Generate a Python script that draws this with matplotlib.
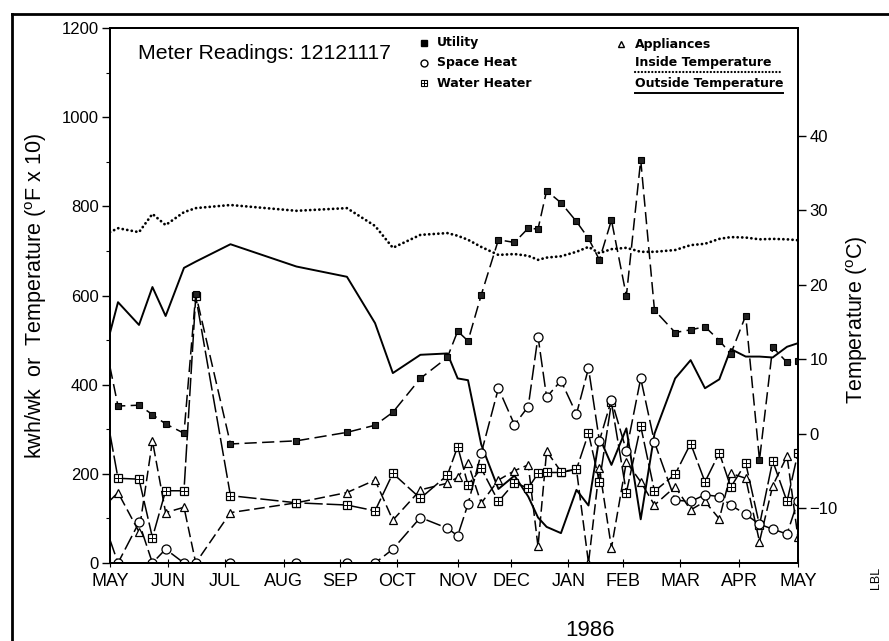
import numpy as np
import matplotlib.pyplot as plt
from matplotlib.lines import Line2D

plt.rcParams['font.family'] = ['Liberation Sans', 'DejaVu Sans']
plt.rcParams['mathtext.fontset'] = 'custom'
plt.rcParams['mathtext.rm'] = 'Liberation Sans'

# month ticks (months since May 1)
month_labels = ['MAY', 'JUN', 'JUL', 'AUG', 'SEP', 'OCT', 'NOV',
                'DEC', 'JAN', 'FEB', 'MAR', 'APR', 'MAY']
month_pos = [0, 1.01, 2.0, 3.03, 4.01, 5.01, 6.06, 6.99, 7.99, 8.95, 9.94, 10.97, 12.0]

# reading dates (months since May 1); first entry is the left edge
weeks = [0, 0.14, 0.506, 0.74, 0.97, 1.29, 1.495, 2.10, 3.25, 4.13, 4.62, 4.93,
         5.41, 5.88, 6.06, 6.24, 6.47, 6.77, 7.05, 7.29, 7.46, 7.61, 7.86,
         8.13, 8.34, 8.53, 8.74, 9.0, 9.25, 9.49, 9.85, 10.12, 10.37, 10.62,
         10.82, 11.08, 11.32, 11.55, 11.80, 11.99]

# kwh/wk
utility = [440, 352, 354, 333, 312, 291, 603, 267, 274, 293, 309, 338,
           414, 461, 520, 498, 601, 725, 719, 751, 749, 835, 808,
           766, 728, 680, 769, 599, 904, 567, 517, 523, 530, 499,
           469, 555, 231, 484, 450, 452]
space_heat = [52, 0, 91, 0, 31, 0, 0, 0, 0, 0, 0, 31,
              102, 78, 61, 132, 246, 392, 310, 351, 508, 372, 409,
              334, 437, 274, 366, 252, 414, 271, 141, 138, 153, 149,
              130, 109, 87, 76, 65, 140]
water_heater = [290, 190, 188, 57, 162, 162, 598, 151, 135, 130, 117, 201,
                145, 197, 261, 175, 212, 138, 180, 168, 201, 203, 203,
                210, 291, 182, 360, 158, 307, 161, 199, 268, 182, 247,
                170, 224, 85, 229, 138, 247]
appliances = [140, 158, 70, 274, 113, 125, 0, 113, 135, 158, 186, 96,
              164, 179, 192, 224, 134, 186, 207, 220, 37, 251, 205,
              210, 0, 212, 34, 227, 182, 130, 171, 119, 138, 99,
              201, 190, 48, 173, 240, 58]

# deg F x 10
inside_temp = [742, 751, 742, 783, 758, 787, 796, 803, 790, 796, 756, 707,
               736, 740, 734, 725, 709, 691, 693, 689, 680, 685, 688,
               698, 709, 695, 704, 707, 698, 698, 702, 713, 716, 727,
               731, 730, 726, 727, 726, 724]
outside_temp = [516, 585, 534, 619, 554, 662, 676, 715, 665, 642, 538, 426,
                467, 470, 414, 410, 266, 166, 196, 149, 102, 81, 67,
                164, 129, 282, 220, 302, 98, 290, 414, 455, 392, 412,
                480, 463, 463, 461, 485, 493]

fig = plt.figure(figsize=(8.89, 6.41), dpi=100)
ax = fig.add_axes([0.1237, 0.1217, 0.7745, 0.8346])

mk = list(range(1, len(weeks)))
lw = 1.1

ax.plot(weeks, inside_temp, color='black', lw=2.0, ls=(0, (0.05, 1.6)),
        dash_capstyle='round')
ax.plot(weeks, outside_temp, color='black', lw=1.4, ls='-')

ax.plot(weeks, appliances, color='black', lw=lw, ls=(0, (7, 3)),
        marker='^', ms=6, mfc='white', mec='black', mew=0.9, markevery=mk)
ax.plot(weeks, water_heater, color='black', lw=lw, ls=(0, (12, 2.5)),
        marker='s', ms=5.5, mfc='white', mec='black', mew=0.9, markevery=mk)
ax.plot(weeks[1:], water_heater[1:], ls='none', marker='+', ms=5.5,
        mec='black', mew=0.7)
ax.plot(weeks, space_heat, color='black', lw=lw, ls=(0, (10, 3)),
        marker='o', ms=6.5, mfc='white', mec='black', mew=0.9, markevery=mk)
ax.plot(weeks, utility, color='black', lw=lw, ls=(0, (8, 3.5)),
        marker='s', ms=5, mfc='#222222', mec='black', mew=0.8, markevery=mk)

ax.set_xlim(0, 12)
ax.set_ylim(0, 1200)
ax.set_xticks(month_pos)
ax.set_xticklabels(month_labels, fontsize=13)
ax.set_yticks(np.arange(0, 1201, 200))
ax.set_yticks(np.arange(100, 1200, 200), minor=True)
ax.tick_params(axis='y', which='major', direction='out', length=6, width=1,
               labelsize=12, pad=2)
ax.tick_params(axis='y', which='minor', direction='out', length=3, width=0.8)
ax.tick_params(axis='x', direction='inout', length=6, width=0.8, pad=4)
for s in ax.spines.values():
    s.set_linewidth(1.4)
ax.set_ylabel(r'kwh/wk  or  Temperature ($^{\mathrm{o}}$F x 10)', fontsize=15.5)
ax.yaxis.set_label_coords(-0.089, 0.5)

ax2 = ax.twinx()
ax2.set_ylim(-17.4, 54.5)
ax2.set_yticks([-10, 0, 10, 20, 30, 40])
ax2.tick_params(axis='y', direction='out', length=6, width=1, labelsize=12, pad=2)
ax2.set_ylabel(r'Temperature ($^{\mathrm{o}}$C)', fontsize=15.5)
ax2.yaxis.set_label_coords(1.066, 0.454)
for s in ax2.spines.values():
    s.set_linewidth(1.4)

# title and key inside the plot
ax.text(0.224, 0.953, 'Meter Readings: 12121117', transform=ax.transAxes,
        fontsize=15.3, ha='center', va='center')

key_kw = dict(transform=ax.transAxes, fontsize=9, fontweight='bold', va='center',
              family='DejaVu Sans')
ax.plot([0.456], [0.972], transform=ax.transAxes, marker='s', ms=4.5,
        color='black', clip_on=False)
ax.text(0.475, 0.972, 'Utility', **key_kw)
ax.plot([0.456], [0.935], transform=ax.transAxes, marker='o', ms=5,
        mfc='white', mec='black', clip_on=False)
ax.text(0.475, 0.935, 'Space Heat', **key_kw)
ax.plot([0.456], [0.897], transform=ax.transAxes, marker='s', ms=5,
        mfc='white', mec='black', mew=0.8, clip_on=False)
ax.plot([0.456], [0.897], transform=ax.transAxes, marker='+', ms=5,
        mec='black', mew=0.7, clip_on=False)
ax.text(0.475, 0.897, 'Water Heater', **key_kw)
ax.plot([0.742], [0.970], transform=ax.transAxes, marker='^', ms=5,
        mfc='white', mec='black', clip_on=False)
ax.text(0.763, 0.970, 'Appliances', **key_kw)
ax.text(0.763, 0.935, 'Inside Temperature', **key_kw)
ax.add_line(Line2D([0.763, 0.978], [0.917, 0.917], transform=ax.transAxes,
                   color='black', lw=1.6, ls=(0, (0.05, 1.5)),
                   dash_capstyle='round'))
ax.text(0.763, 0.897, 'Outside Temperature', **key_kw)
ax.add_line(Line2D([0.763, 0.978], [0.879, 0.879], transform=ax.transAxes,
                   color='black', lw=1.4))

fig.text(0.664, 0.016, '1986', fontsize=16, ha='center', va='center')
fig.text(0.985, 0.098, 'LBL', fontsize=9, rotation=90, ha='center', va='center')

# outer frame of the original page
fig.add_artist(Line2D([0.013, 1.0], [0.978, 0.978], transform=fig.transFigure,
                      color='black', lw=2))
fig.add_artist(Line2D([0.013, 0.013], [0.0, 0.978], transform=fig.transFigure,
                      color='black', lw=2))

fig.savefig('out.png', dpi=100)
